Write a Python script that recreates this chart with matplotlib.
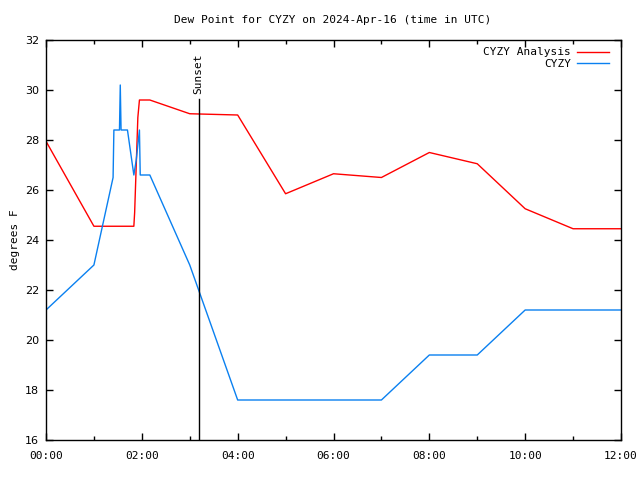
import matplotlib
matplotlib.use("Agg")
import matplotlib.pyplot as plt
from matplotlib.ticker import MultipleLocator, FuncFormatter

# analysis (red) series
analysis_times = ["00:00", "01:00", "01:50", "01:51", "01:53", "01:55", "01:57", "02:10",
                  "03:00", "04:00", "05:00", "06:00", "07:00", "08:00", "09:00", "10:00",
                  "11:00", "12:00"]
analysis_vals = [27.95, 24.55, 24.55, 25.1, 27.0, 28.9, 29.6, 29.6,
                 29.05, 29.0, 25.85, 26.65, 26.5, 27.5, 27.05, 25.25,
                 24.45, 24.45]

# station obs (blue) series
obs_times = ["00:00", "01:00", "01:24", "01:25", "01:32", "01:33", "01:34", "01:42",
             "01:50", "01:53", "01:57", "01:58", "02:10", "03:00", "04:00", "07:00",
             "08:00", "09:00", "10:00", "12:00"]
obs_vals = [21.2, 23.0, 26.5, 28.4, 28.4, 30.2, 28.4, 28.4,
            26.6, 27.2, 28.4, 26.6, 26.6, 23.0, 17.6, 17.6,
            19.4, 19.4, 21.2, 21.2]

sunset_time = "03:11"
sunset_top = 29.65


def to_hours(t):
    h, m = t.split(":")
    return int(h) + int(m) / 60.0


mono = "DejaVu Sans Mono"

fig = plt.figure(figsize=(6.4, 4.8), dpi=100)
ax = fig.add_axes([46 / 640, 40 / 480, 575 / 640, 400 / 480])

ax.plot([to_hours(t) for t in analysis_times], analysis_vals, color="#ff0000", lw=1, label="CYZY Analysis")
ax.plot([to_hours(t) for t in obs_times], obs_vals, color="#0a80f0", lw=1, label="CYZY")

sx = to_hours(sunset_time)
ax.plot([sx, sx], [16, sunset_top], color="black", lw=1)
ax.text(sx, sunset_top + 0.2, "Sunset", rotation=90, ha="center", va="bottom",
        family=mono, fontsize=8)

ax.set_xlim(0, 12)
ax.set_ylim(16, 32)
ax.xaxis.set_major_locator(MultipleLocator(2))
ax.xaxis.set_minor_locator(MultipleLocator(1))
ax.yaxis.set_major_locator(MultipleLocator(2))
ax.xaxis.set_major_formatter(FuncFormatter(lambda v, p: "%02d:00" % int(round(v))))
ax.tick_params(which="both", direction="in", top=True, right=True, width=1)
ax.tick_params(which="major", length=5)
ax.tick_params(which="minor", length=3)
ax.tick_params(axis="x", pad=8)
ax.tick_params(axis="y", pad=5)
for lab in ax.get_xticklabels():
    lab.set_family(mono)
    lab.set_fontsize(8)
for lab in ax.get_yticklabels():
    lab.set_fontsize(8)
for s in ax.spines.values():
    s.set_linewidth(1)

ax.set_ylabel("degrees F", family=mono, fontsize=8)
ax.yaxis.set_label_coords(-26 / 575, 0.5)
fig.text(333 / 640, 1 - 20 / 480, "Dew Point for CYZY on 2024-Apr-16 (time in UTC)",
         ha="center", va="center", family=mono, fontsize=8)

leg = ax.legend(loc="upper right", frameon=False, markerfirst=False, prop={"family": mono, "size": 8},
                handlelength=2.8, borderaxespad=0.0, labelspacing=0.15, handletextpad=0.6,
                bbox_to_anchor=(1 - 8 / 575, 1 - 3 / 400))
for t in leg.get_texts():
    t.set_ha("right")
leg._legend_box.align = "right"

fig.savefig("out.png", dpi=100)
